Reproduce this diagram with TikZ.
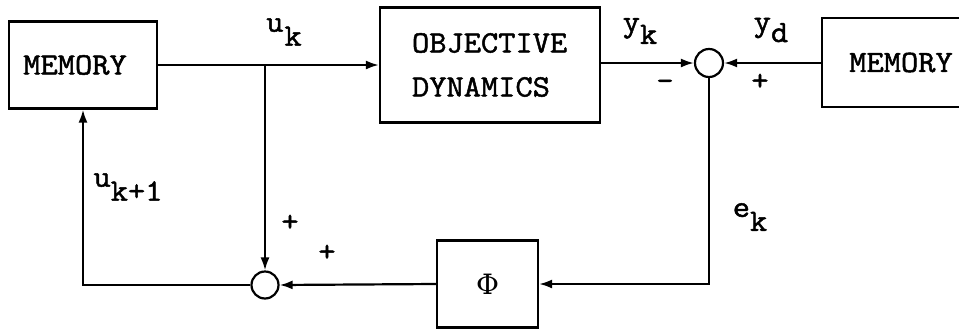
\documentclass[tikz,border=0pt]{standalone}
\usepackage{fontspec}
\setmonofont{Latin Modern Mono}[FakeStretch=1.08,FakeBold=1.6]
\newfontfamily\phifont{DejaVu Serif}
\usetikzlibrary{arrows.meta,calc}
\begin{document}
\begin{tikzpicture}[x=1pt,y=-1pt,
  font=\ttfamily\fontsize{31}{44}\selectfont,
  line width=2.2pt,
  blk/.style={draw,rectangle,inner sep=0pt,align=left},
  sumc/.style={draw,circle,inner sep=0pt,minimum size=28pt},
  lbl/.style={inner sep=0pt},
  arr/.style={-{Latex[length=13pt,width=9pt]}}]
\useasboundingbox (0,0) rectangle (959,330);
% blocks
\node[blk,minimum width=148pt,minimum height=87pt] (mem1) at (83,65) {MEMORY\hspace*{16pt}};
\node[blk,minimum width=220pt,minimum height=115pt] (obj) at (490,65) {OBJECTIVE\\DYNAMICS\hspace*{18pt}};
\node[blk,minimum width=148pt,minimum height=89pt] (mem2) at (896,62.5) {\hspace*{10pt}MEMORY};
\node[blk,minimum width=101pt,minimum height=87pt,font=\phifont\fontsize{28}{28}\selectfont] (phi) at (487.5,284) {Φ};
\node[sumc] (s1) at (709,63) {};
\node[sumc,minimum size=27pt] (s2) at (265,285) {};
\coordinate (br) at (265,65);
% connectors
\draw[arr] (mem1.east) -- (obj.west);
\draw[arr] (br) -- (s2.north);
\draw[arr] (obj.east |- s1.west) -- (s1.west);
\draw[arr] (mem2.west |- s1.east) -- (s1.east);
\draw[arr] (s1.south) |- (phi.east);
\draw[arr] (phi.west) -- (s2.east);
\draw[arr] (s2.west) -| (mem1.south);
% labels
\node[lbl] (luk) at (284,32) {u\kern1pt\raisebox{-0.45em}{k}};
\node[lbl] (lyk) at (640,31) {y\raisebox{-0.4em}{k}};
\node[lbl] (lyd) at (771,30) {y\raisebox{-0.35em}{d}};
\node[lbl] (luk1) at (128,187) {u\raisebox{-0.45em}{k+1}};
\node[lbl] (lek) at (750,217) {e\raisebox{-0.45em}{k}};
\node[lbl] (lm) at (665,85) {-};
\node[lbl] (lp1) at (760,82) {+};
\node[lbl] (lp2) at (290,223) {+};
\node[lbl] (lp3) at (327,253) {+};
\end{tikzpicture}
\end{document}
